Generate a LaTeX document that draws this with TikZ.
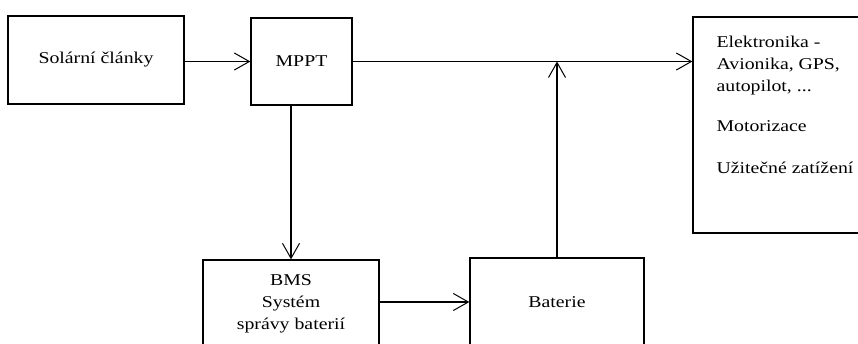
\documentclass[tikz,border=0pt]{standalone}
\usepackage{fontspec}
\setmainfont{Liberation Serif}[FakeStretch=1.2]
\usetikzlibrary{arrows.meta}

\begin{document}
\begin{tikzpicture}[x=1pt, y=-1pt,
  blok/.style={draw, line width=1.3pt, minimum width=176pt, minimum height=88pt, inner sep=0pt},
  popis/.style={font=\fontsize{16.5}{22}\selectfont, align=center, inner sep=0pt},
  sipka/.style={line width=1.3pt, -{Straight Barb[length=15pt, width=17pt, line width=1pt]}}]

\useasboundingbox (0,0) rectangle (858,343);
\clip (0,0) rectangle (858,343);

% Draw the blocks
\node [blok] (solar) at (96,60) {};
\node [popis] at (solar.center) {Solární články};
\node [blok, minimum width=101pt, minimum height=87pt] (mppt) at (301.5,61.5) {};
\node [popis] at (mppt.center) {MPPT};
\node [blok, minimum width=200pt, minimum height=216pt] (elek) at (793,125) {};
\node [popis, align=left, anchor=north west] (zatez) at ([shift={(24pt,-19pt)}]elek.north west)
  {Elektronika -\\Avionika, GPS,\\autopilot, ...\\[18pt]Motorizace\\[20pt]Užitečné zatížení};
\node [blok] (bms) at (291,304) {};
\node [popis] at (bms.center) {BMS\\Systém\\správy baterií};
\node [blok, minimum width=174pt] (bat) at (557,302) {};
\node [popis] at (bat.center) {Baterie};

% Draw the connections
\coordinate (uzel) at (bat.north |- mppt.east);
\draw [sipka] (solar.east |- mppt.east) -- (mppt.west);
\draw [sipka] (mppt.east) -- (mppt.east -| elek.west);
\draw [sipka] (bms.north |- mppt.south) -- (bms.north);
\draw [sipka] (bms.east) ++(0,-2) -- (bat.west);
\draw [sipka] (bat.north) -- (uzel);

\end{tikzpicture}
\end{document}
